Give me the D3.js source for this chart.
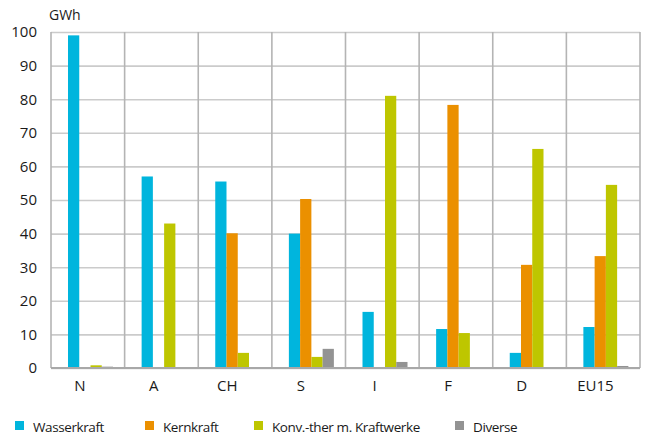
<!doctype html>
<html>
<head>
<meta charset="utf-8">
<script src="https://d3js.org/d3.v7.min.js"></script>
<style>
  body { margin: 0; background: #fff; }
  text { font-family: "Open Sans", "Liberation Sans", sans-serif; fill: #1a1a1a; }
</style>
</head>
<body>
<div class="graph"></div>
<script>
// data (GWh)
var countries = ["N", "A", "CH", "S", "I", "F", "D", "EU15"];
var series = ["Wasserkraft", "Kernkraft", "Konv.-ther m. Kraftwerke", "Diverse"];
var wasser  = [99, 57, 55.5, 40, 16.7, 11.6, 4.5, 12.2];
var kern    = [0, 0, 40.1, 50.3, 0, 78.3, 30.7, 33.3];
var konv    = [0.8, 43, 4.5, 3.3, 81, 10.4, 65.2, 54.5];
var diverse = [0.4, 0, 0, 5.7, 1.8, 0, 0, 0.6];
var yTicks = [0, 10, 20, 30, 40, 50, 60, 70, 80, 90, 100];
var colors = ["#00b5dd", "#eb9000", "#bec600", "#939393"];

var values = [wasser, kern, konv, diverse];

var width = 648, height = 436;
var pLeft = 51, pRight = 640, pTop = 32, pBottom = 368;

var svg = d3.select('.graph')
            .append('svg')
            .attr('width', width)
            .attr('height', height);

var x0 = d3.scaleBand()
           .domain(countries)
           .range([pLeft, pRight]);

var x1 = d3.scaleBand()
           .domain(series)
           .range([17, 17 + 45]);

var y = d3.scaleLinear()
          .domain([0, 100])
          .range([pBottom, pTop]);

// horizontal grid + y labels
var yAxis = svg.append('g')
   .attr('transform', 'translate(' + pLeft + ',0)')
   .call(d3.axisLeft(y).tickValues(yTicks).tickSize(-(pRight - pLeft)).tickPadding(14));
yAxis.select('.domain').remove();
yAxis.selectAll('line').attr('stroke', '#cbcbcb').attr('stroke-width', 1.6);
yAxis.selectAll('text').style('font-size', '15px').attr('fill', '#1a1a1a');

// vertical dividers
var bounds = countries.map(function(c){ return x0(c); }).concat([pRight]);
svg.append('g').selectAll('line')
   .data(bounds)
   .enter().append('line')
   .attr('x1', function(d){ return d; })
   .attr('x2', function(d){ return d; })
   .attr('y1', pTop)
   .attr('y2', pBottom)
   .attr('stroke', '#b4b4b4')
   .attr('stroke-width', 1.6);

// bars
var group = svg.append('g').selectAll('g')
   .data(countries)
   .enter().append('g')
   .attr('transform', function(d){ return 'translate(' + x0(d) + ',0)'; });

group.selectAll('rect')
   .data(function(d, i){ return series.map(function(s, j){ return {s: s, v: values[j][i], c: colors[j]}; }); })
   .enter().append('rect')
   .attr('x', function(d){ return x1(d.s); })
   .attr('y', function(d){ return y(d.v); })
   .attr('width', x1.bandwidth())
   .attr('height', function(d){ return y(0) - y(d.v); })
   .style('fill', function(d){ return d.c; });

// baseline
svg.append('line')
   .attr('x1', pLeft).attr('x2', pRight)
   .attr('y1', pBottom).attr('y2', pBottom)
   .attr('stroke', '#a8a8a8')
   .attr('stroke-width', 2);

// x labels
svg.append('g').selectAll('text')
   .data(countries)
   .enter().append('text')
   .attr('x', function(d){ return x0(d) + 29; })
   .attr('y', 391)
   .attr('text-anchor', 'middle')
   .style('font-size', '15px')
   .text(function(d){ return d; });

// unit
svg.append('text')
   .attr('x', 49).attr('y', 20)
   .style('font-size', '14px')
   .text('GWh');

// legend
var legX = [15, 145, 254, 455];
var leg = svg.append('g').selectAll('g')
   .data(series)
   .enter().append('g')
   .attr('transform', function(d, i){ return 'translate(' + legX[i] + ',421)'; });
leg.append('rect')
   .attr('width', 9).attr('height', 9)
   .style('fill', function(d, i){ return colors[i]; });
leg.append('text')
   .attr('x', 18).attr('y', 11)
   .style('font-size', '13.5px')
   .style('letter-spacing', '-0.4px')
   .text(function(d){ return d; });
</script>
</body>
</html>
